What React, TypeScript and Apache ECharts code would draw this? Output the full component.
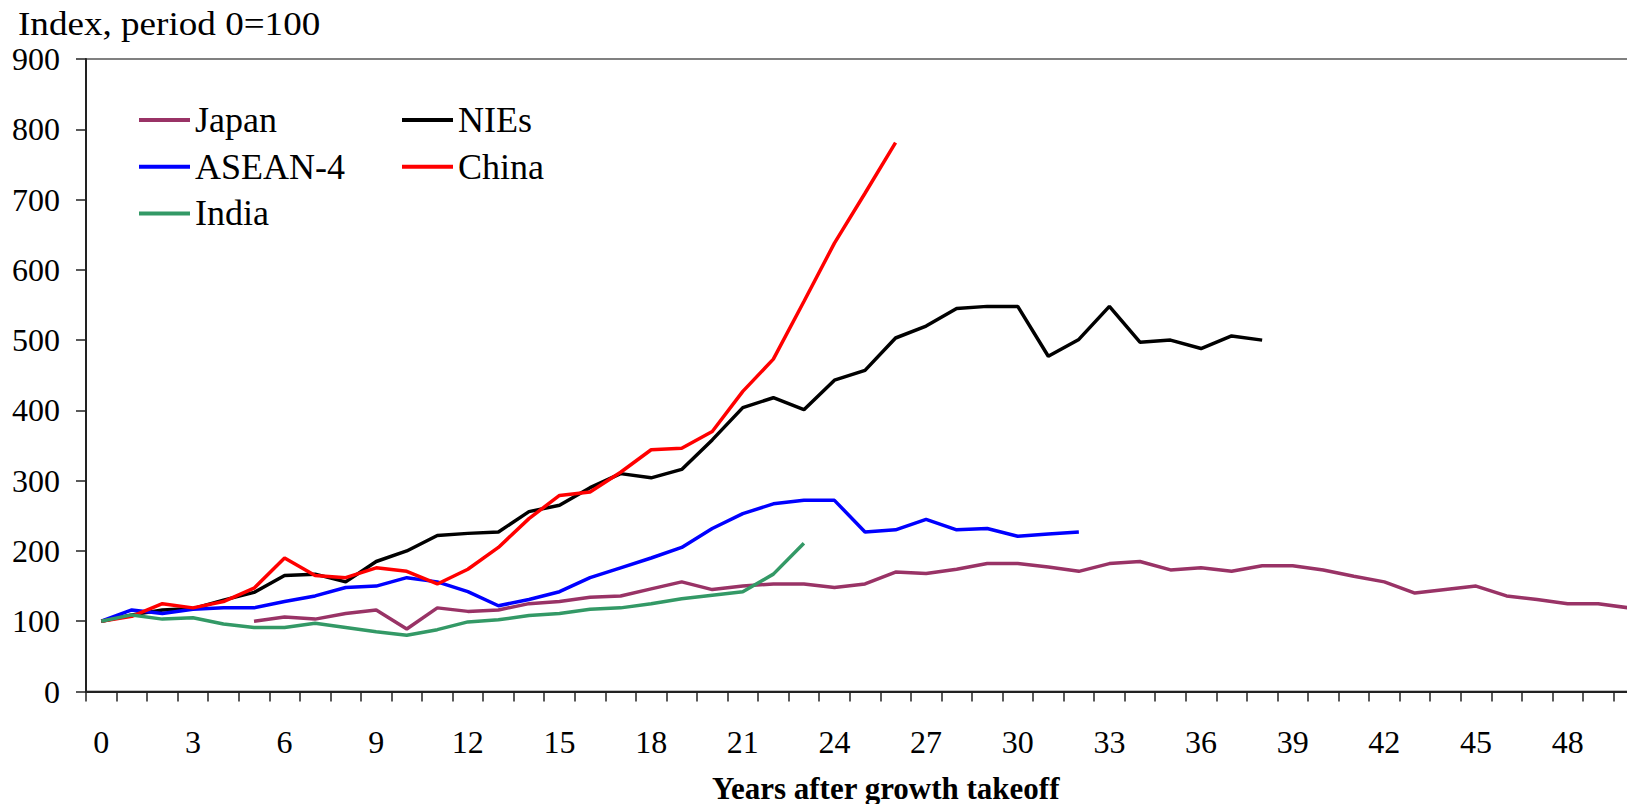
import React, { useEffect, useRef } from "react";
import * as echarts from "echarts";

const FONT = "Liberation Serif";

const years = [
  "0", "1", "2", "3", "4", "5", "6", "7", "8", "9",
  "10", "11", "12", "13", "14", "15", "16", "17", "18", "19",
  "20", "21", "22", "23", "24", "25", "26", "27", "28", "29",
  "30", "31", "32", "33", "34", "35", "36", "37", "38", "39",
  "40", "41", "42", "43", "44", "45", "46", "47", "48", "49", "50",
];

const japan = [
  null, null, null, null, null, 100, 106, 103, 111, 116,
  89, 119, 114, 116, 125, 128, 134, 136, 146, 156,
  145, 150, 153, 153, 148, 153, 170, 168, 174, 182,
  182, 177, 171, 182, 185, 173, 176, 171, 179, 179,
  173, 164, 156, 140, 145, 150, 136, 131, 125, 125, 119,
];

const nies = [
  100, 109, 116, 118, 130, 141, 165, 167, 156, 185,
  200, 222, 225, 227, 256, 265, 290, 310, 304, 316,
  358, 404, 418, 401, 443, 457, 503, 520, 545, 548,
  548, 477, 501, 548, 497, 500, 488, 506, 500,
];

const asean4 = [
  100, 116, 111, 117, 119, 119, 128, 136, 148, 150,
  162, 156, 142, 122, 131, 142, 162, 176, 190, 205,
  232, 253, 267, 272, 272, 227, 230, 245, 230, 232,
  221, 224, 227,
];

const china = [
  100, 107, 125, 119, 128, 147, 190, 165, 162, 176,
  171, 153, 174, 205, 246, 279, 284, 312, 344, 346,
  370, 427, 473, 555, 638, 709, 781,
];

const india = [
  100, 109, 103, 105, 96, 91, 91, 97, 91, 85,
  80, 88, 99, 102, 108, 111, 117, 119, 125, 132,
  137, 142, 167, 211,
];

const legendLeftCol = ["Japan", "ASEAN-4", "India"];
const legendRightCol = ["NIEs", "China"];

const yTitle = "Index, period 0=100";
const xTitle = "Years after growth takeoff";

export default function App() {
  const ref = useRef<HTMLDivElement>(null);

  useEffect(() => {
    if (!ref.current) return;
    const chart = echarts.init(ref.current, null, { renderer: "svg" });

    const mkSeries = (name: string, data: (number | null)[], color: string) => ({
      name,
      type: "line",
      data,
      symbol: "none",
      showSymbol: false,
      connectNulls: false,
      lineStyle: { width: 3.5, color },
      itemStyle: { color },
      emphasis: { disabled: true },
    });

    const legendBase = {
      orient: "vertical",
      icon: "rect",
      itemWidth: 51,
      itemHeight: 4,
      itemGap: 10.7,
      selectedMode: false,
      textStyle: {
        fontSize: 36,
        fontFamily: FONT,
        color: "#000",
        lineHeight: 36,
      },
    };

    chart.setOption({
      animation: false,
      backgroundColor: "#ffffff",
      textStyle: { fontFamily: FONT },
      grid: {
        left: 86,
        top: 59,
        bottom: 112.5,
        right: 0,
        show: true,
        borderColor: "#808080",
        borderWidth: 2,
        backgroundColor: "transparent",
        containLabel: false,
      },
      legend: [
        { ...legendBase, data: legendLeftCol, left: 134, top: 97 },
        { ...legendBase, data: legendRightCol, left: 397, top: 97 },
      ],
      xAxis: {
        type: "category",
        data: years,
        boundaryGap: true,
        axisLine: { show: true, lineStyle: { color: "#222", width: 2 } },
        axisTick: {
          show: true,
          interval: 0,
          length: 10,
          lineStyle: { color: "#222", width: 1.5 },
        },
        axisLabel: {
          interval: 2,
          fontSize: 32,
          fontFamily: FONT,
          color: "#000",
          margin: 34,
        },
        splitLine: { show: false },
      },
      yAxis: {
        type: "value",
        min: 0,
        max: 900,
        interval: 100,
        axisLine: { show: true, lineStyle: { color: "#222", width: 2 } },
        axisTick: {
          show: true,
          length: 10,
          lineStyle: { color: "#222", width: 1.5 },
        },
        axisLabel: {
          fontSize: 32,
          fontFamily: FONT,
          color: "#000",
          margin: 26,
        },
        splitLine: { show: false },
      },
      graphic: [
        {
          type: "text",
          x: 18,
          y: 24,
          scaleX: 1.125,
          style: {
            text: yTitle,
            fontSize: 33,
            fontFamily: FONT,
            fill: "#000",
            align: "left",
            verticalAlign: "middle",
            textAlign: "left",
            textVerticalAlign: "middle",
          },
        },
        {
          type: "text",
          x: 712,
          y: 788,
          style: {
            text: xTitle,
            fontSize: 31,
            fontWeight: "bold",
            fontFamily: FONT,
            fill: "#000",
            align: "left",
            verticalAlign: "middle",
            textAlign: "left",
            textVerticalAlign: "middle",
          },
        },
      ],
      series: [
        mkSeries("Japan", japan, "#993366"),
        mkSeries("NIEs", nies, "#000000"),
        mkSeries("ASEAN-4", asean4, "#0000FF"),
        mkSeries("China", china, "#FF0000"),
        mkSeries("India", india, "#339966"),
      ],
    });

    return () => chart.dispose();
  }, []);

  return (
    <div
      style={{
        position: "absolute",
        left: 0,
        top: 0,
        width: 1627,
        height: 804,
        overflow: "hidden",
        background: "#fff",
      }}
    >
      <div ref={ref} style={{ width: 1644, height: 804 }} />
    </div>
  );
}
